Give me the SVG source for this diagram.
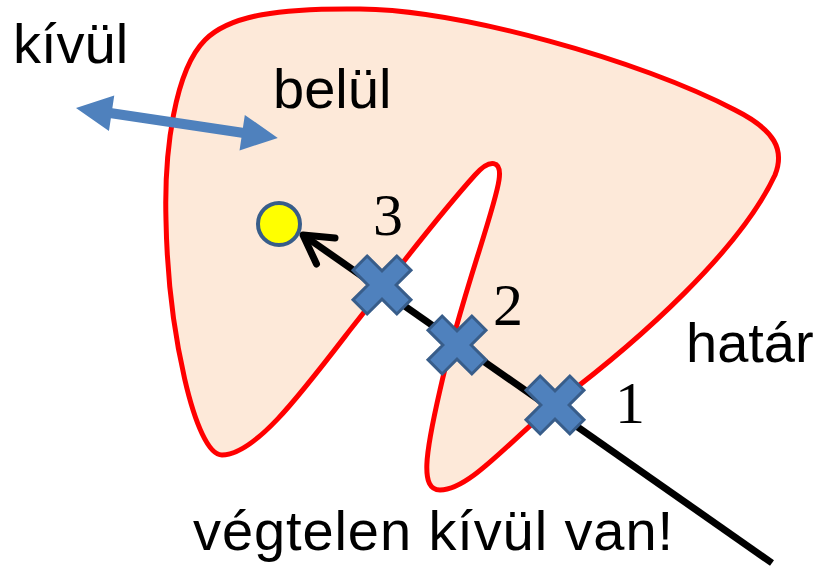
<svg xmlns="http://www.w3.org/2000/svg" width="825" height="572" viewBox="0 0 825 572">
  <style>
    .lbl { font-family: "Liberation Sans", Arial, sans-serif; font-size: 56px; fill: #000; }
    .num { font-family: "Liberation Serif", "Times New Roman", serif; font-size: 60px; fill: #000; }
    .cross { fill: #4F81BD; stroke: #385D8A; stroke-width: 3; stroke-linejoin: miter; }
  </style>
  <defs>
    <polygon id="xmark" transform="rotate(45)" points="-10,-31 10,-31 10,-10 31,-10 31,10 10,10 10,31 -10,31 -10,10 -31,10 -31,-10 -10,-10"/>
  </defs>
  <rect width="825" height="572" fill="#FFFFFF"/>

  <g id="region">
    <path d="M 222,455 C 195,455 168,330 166,220 C 164,150 175,70 205,40 C 230,15 280,8 360,9 C 460,10 640,60 735,110 C 775,130 785,150 775,175 C 740,250 640,340 560,400 C 510,440 470,490 440,490 C 420,490 425,455 440,390 C 460,300 495,210 499,180 C 502,160 490,158 475,175 C 430,225 390,280 350,330 C 300,395 255,455 222,455 Z" fill="#FDE9D9" stroke="#FF0000" stroke-width="5"/>
  </g>

  <g id="connectors">
    <line x1="772" y1="563" x2="306" y2="237" stroke="#000" stroke-width="7"/>
    <polyline points="335,238 303,235 316.5,264" fill="none" stroke="#000" stroke-width="7" stroke-linecap="round" stroke-linejoin="round"/>
    <g transform="translate(76,108) rotate(8.45)">
      <polygon points="0,0 36,-18 36,-5 168,-5 168,-18 204,0 168,18 168,5 36,5 36,18" fill="#4F81BD"/>
    </g>
  </g>

  <g id="cross3"><use href="#xmark" class="cross" transform="translate(382,285)"/></g>
  <g id="cross2"><use href="#xmark" class="cross" transform="translate(457,345)"/></g>
  <g id="cross1"><use href="#xmark" class="cross" transform="translate(555,405)"/></g>

  <g id="point">
    <circle cx="279" cy="224" r="21" fill="#FFFF00" stroke="#385D8A" stroke-width="4"/>
  </g>

  <g id="labels">
    <text class="lbl" x="13" y="63">kívül</text>
    <text class="lbl" x="273" y="108">belül</text>
    <text class="lbl" x="686" y="362">határ</text>
    <text class="lbl" x="193" y="550" textLength="480" lengthAdjust="spacing">végtelen kívül van!</text>
    <text class="num" x="373" y="235">3</text>
    <text class="num" x="493" y="325">2</text>
    <text class="num" x="615" y="423">1</text>
  </g>
</svg>
